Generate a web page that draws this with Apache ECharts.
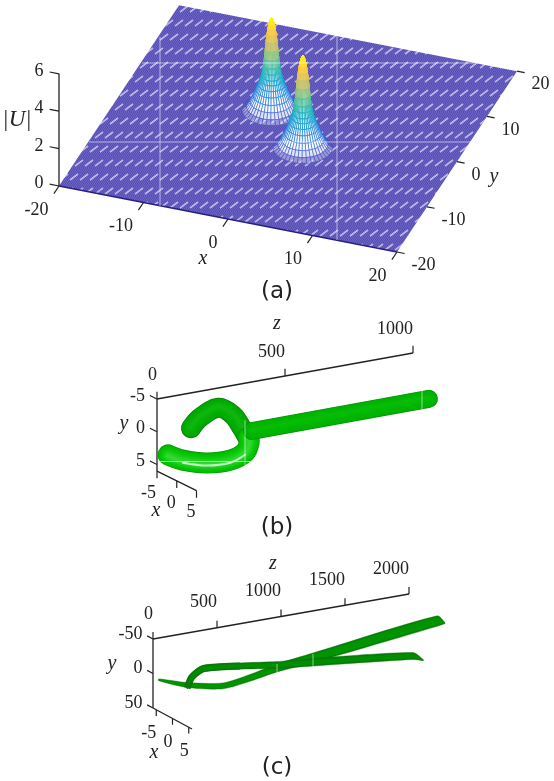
<!DOCTYPE html>
<html>
<head>
<meta charset="utf-8">
<style>
html, body { margin: 0; background: #fff; }
#chart { width: 554px; height: 781px; }
</style>
</head>
<body>
<div id="chart"></div>
<script src="https://cdn.jsdelivr.net/npm/echarts@6/dist/echarts.min.js"></script>
<script>
// panel (a): ticks and the two peaks of |U|
const aTicksX = [-20, -10, 0, 10, 20]
const aTicksY = [-20, -10, 0, 10, 20]
const aTicksU = [0, 2, 4, 6]
const peakCentersX = [-2.9, 3.0]
const peakCentersY = [2.7, -3.5]
const peakRadii = [0, 0.1, 0.2, 0.3, 0.4, 0.5, 0.6, 0.7, 0.8, 0.9, 1.0, 1.15, 1.3, 1.5, 1.75, 2.05, 2.4, 2.8, 3.3]
const peakHeights = [5.0, 4.96, 4.85, 4.68, 4.45, 4.15, 3.8, 3.35, 2.9, 2.5, 2.2, 1.92, 1.7, 1.45, 1.17, 0.85, 0.55, 0.28, 0.1]

// panel (b): two arms that fuse into one straight tube
const bTicksX = [-5, 0, 5]
const bTicksY = [-5, 0, 5]
const bTicksZ = [0, 500, 1000]
const bUpperZ = [0, 60, 120, 170, 230, 274]
const bUpperX = [3.6, 2.0, 2.7, 3.2, 1.6, 0.0]
const bUpperY = [-3.1, -3.8, -5.1, -3.8, -0.9, 1.2]
const bLowerZ = [0, 50, 110, 170, 210, 240, 274]
const bLowerX = [-2.2, -1.7, 0.5, 2.5, 3.7, 2.8, 0.3]
const bLowerY = [2.7, 3.7, 3.9, 3.3, 2.0, 0.9, 1.2]
const bStraightZ = [294, 985]
const bStraightX = [0, 0]
const bStraightY = [0.46, 0.4]

// panel (c): two long ribbons that cross
const cTicksX = [-5, 0, 5]
const cTicksY = [-50, 0, 50]
const cTicksZ = [0, 500, 1000, 1500, 2000]
const cRisingZ = [0, 200, 450, 640, 850, 1150, 2050, 2100]
const cRisingX = [-4.2, -3.4, -2.2, -1.4, -1.3, -2.1, 0.7, 1.1]
const cRisingY = [4.7, 16.6, 23, 15.6, 7.8, 5, -26.1, -22.8]
const cRisingHalf = [1.4, 3.6, 4.3, 5, 5.8, 7, 7.6, 0.7]
const cFlatZ = [0, 60, 180, 520, 850, 1100, 1960, 2040]
const cFlatX = [4.5, 3.6, 2.4, 0.3, -1.3, -3.2, -3.2, -3.2]
const cFlatY = [-5.5, -17.4, -22.5, -9.8, 3.5, 13.5, 31.4, 40]
const cFlatHalf = [1.4, 5.8, 5, 4.6, 5, 5.5, 5, 0.7]

// oblique views, one per panel: where the axis minimum sits and the step per data unit
const viewA = {origin: [59, 186], min: [-20, -20, 0], xVec: [8.45, 1.65], yVec: [3.0, -4.52], zVec: [0, -18.7]}
const viewB = {origin: [157, 399], min: [-5, -5, 0], xVec: [3.95, 1.95], yVec: [0, 6.55], zVec: [0.256, -0.046]}
const viewC = {origin: [153, 639], min: [-6, -50, 0], xVec: [3.25, 1.75], yVec: [0, 0.69], zVec: [0.128, -0.0225]}

const parula = ['#4a40b0', '#2a6ae0', '#1481d6', '#06a4ca', '#2eb7a4', '#87bf77', '#d1bb59', '#fec832', '#f9fb0e']
const axisColor = '#222'
const tickFont = '18px "Liberation Serif"'
const nameFont = 'italic 20px "Liberation Serif"'
const captionFont = '23px "DejaVu Sans"'

function project(view, x, y, z) {
    const dx = x - view.min[0]
    const dy = y - view.min[1]
    const dz = z - view.min[2]
    return [
        view.origin[0] + dx * view.xVec[0] + dy * view.yVec[0] + dz * view.zVec[0],
        view.origin[1] + dx * view.xVec[1] + dy * view.yVec[1] + dz * view.zVec[1],
    ]
}

function lerpColor(c0, c1, f) {
    const a = echarts.color.parse(c0)
    const b = echarts.color.parse(c1)
    return 'rgb(' + [0, 1, 2].map(k => Math.round(a[k] + (b[k] - a[k]) * f)).join(',') + ')'
}

function rampColor(stops, t) {
    const pos = Math.max(0, Math.min(1, t)) * (stops.length - 1)
    const i = Math.min(stops.length - 2, Math.floor(pos))
    return lerpColor(stops[i], stops[i + 1], pos - i)
}

function line(api, pts, color, width) {
    return {
        type: 'polyline',
        silent: true,
        shape: {points: pts.map(p => api.coord(p))},
        style: {stroke: color, lineWidth: width, fill: null, lineCap: 'butt'},
    }
}

function text(api, str, pos, align, font, dx, dy) {
    const p = api.coord(pos)
    return {
        type: 'text',
        silent: true,
        x: p[0] + (dx || 0),
        y: p[1] + (dy || 0),
        style: {text: str, font: font, fill: axisColor, align: align, verticalAlign: 'middle'},
    }
}

// the dense mesh prints as purple with rows of short white dashes
function meshTile() {
    const tile = document.createElement('canvas')
    tile.width = 20
    tile.height = 28
    const ctx = tile.getContext('2d')
    ctx.fillStyle = '#5349b0'
    ctx.fillRect(0, 0, 20, 28)
    ctx.strokeStyle = '#7069c8'
    ctx.lineWidth = 1
    for (let i = -28; i < 48; i += 2) {
        ctx.beginPath()
        ctx.moveTo(i, 28)
        ctx.lineTo(i + 19, 0)
        ctx.stroke()
    }
    ctx.strokeStyle = 'rgba(232,230,250,0.68)'
    ctx.lineWidth = 1.6
    const dashes = [[0, 12], [10, 12], [20, 12], [5, 26], [15, 26], [-5, 26]]
    dashes.forEach(d => {
        ctx.beginPath()
        ctx.moveTo(d[0], d[1])
        ctx.lineTo(d[0] + 8, d[1] - 6)
        ctx.stroke()
    })
    return tile
}

const surfaceFill = {image: meshTile(), repeat: 'repeat'}

function renderSurface(params, api) {
    const corners = [[-20, -20], [20, -20], [20, 20], [-20, 20]]
    return {
        type: 'group',
        children: [
            {
                type: 'polygon',
                silent: true,
                shape: {points: corners.map(c => api.coord(project(viewA, c[0], c[1], 0)))},
                style: {fill: surfaceFill},
            },
            line(api, [project(viewA, -20, -20, 0), project(viewA, 20, -20, 0)], '#2a1f80', 1.6),
        ],
    }
}

function renderPeaks(params, api) {
    const quads = []
    const angles = 40
    peakCentersX.forEach((cx, p) => {
        const cy = peakCentersY[p]
        const centerDepth = project(viewA, cx, cy, 0)[1]
        for (let r = peakRadii.length - 2; r >= 0; r--) {
            for (let a = 0; a < angles; a++) {
                const t0 = a / angles * 2 * Math.PI
                const t1 = (a + 1) / angles * 2 * Math.PI
                const corners = [
                    [cx + peakRadii[r] * Math.cos(t0), cy + peakRadii[r] * Math.sin(t0), peakHeights[r]],
                    [cx + peakRadii[r + 1] * Math.cos(t0), cy + peakRadii[r + 1] * Math.sin(t0), peakHeights[r + 1]],
                    [cx + peakRadii[r + 1] * Math.cos(t1), cy + peakRadii[r + 1] * Math.sin(t1), peakHeights[r + 1]],
                    [cx + peakRadii[r] * Math.cos(t1), cy + peakRadii[r] * Math.sin(t1), peakHeights[r]],
                ]
                const mx = (corners[0][0] + corners[2][0]) / 2
                const my = (corners[0][1] + corners[2][1]) / 2
                const depth = project(viewA, mx, my, 0)[1]
                quads.push({
                    depth: depth,
                    front: depth > centerDepth,
                    level: (peakHeights[r] + peakHeights[r + 1]) / 2,
                    pts: corners.map(c => project(viewA, c[0], c[1], c[2])),
                })
            }
        }
    })
    // back to front so the near side hides the far side
    quads.sort((a, b) => a.depth - b.depth)
    const children = quads.map(q => {
        const white = Math.min(1, q.level / 0.5) * (q.front ? 1 : Math.min(1, q.level / 1.2))
        return {
            type: 'polygon',
            silent: true,
            shape: {points: q.pts.map(p => api.coord(p))},
            style: {
                fill: 'rgba(255,255,255,' + white.toFixed(2) + ')',
                stroke: rampColor(parula, q.level / 5),
                lineWidth: 0.5 + 0.3 * Math.min(1, q.level / 2),
            },
        }
    })
    return {type: 'group', children: children}
}

function addTicks(children, api, view, ticks, fixed, tickDelta, labelAlign, dx, dy) {
    ticks.forEach(v => {
        const at = fixed(v)
        const end = [at[0] + tickDelta[0], at[1] + tickDelta[1], at[2] + tickDelta[2]]
        const a = project(view, at[0], at[1], at[2])
        children.push(line(api, [a, project(view, end[0], end[1], end[2])], axisColor, 1.2))
        children.push(text(api, String(v), a, labelAlign, tickFont, dx, dy))
    })
}

function renderAxes(params, api) {
    const c = []

    // (a)
    c.push(line(api, [project(viewA, -20, -20, 0), project(viewA, -20, -20, 6)], axisColor, 1.3))
    addTicks(c, api, viewA, aTicksU, v => [-20, -20, v], [-1.1, 0, 0], 'right', -15.5, -2.5)
    addTicks(c, api, viewA, aTicksX, v => [v, -20, 0], [0, -1.7, 0], 'right', -10.5, 24)
    addTicks(c, api, viewA, aTicksY, v => [20, v, 0], [0.9, 0, 0], 'left', 14.5, 13.5)
    c.push(text(api, '|U|', [17, 120], 'center', 'italic 23px "Liberation Serif"'))
    c.push(text(api, 'x', [203, 259], 'center', nameFont))
    c.push(text(api, 'y', [494, 177], 'center', nameFont))
    c.push(text(api, '(a)', [277, 292], 'center', captionFont))

    // (b)
    c.push(line(api, [project(viewB, -5, -5, 0), project(viewB, -5, -5, 1000)], axisColor, 1.3))
    c.push(line(api, [project(viewB, -5, -5, 0), project(viewB, -5, 6, 0)], axisColor, 1.3))
    c.push(line(api, [project(viewB, -5, 6, 0), project(viewB, 5, 6, 0)], axisColor, 1.3))
    addTicks(c, api, viewB, bTicksZ, v => [-5, -5, v], [0, -1.1, 0], 'right', 0, -24)
    addTicks(c, api, viewB, bTicksY, v => [-5, v, 0], [-1.8, 0, 0], 'right', -12, -3)
    addTicks(c, api, viewB, bTicksX, v => [v, 6, 0], [0, 1.1, 0], 'right', -1, 22)
    c.push(text(api, 'z', [277, 324], 'center', nameFont))
    c.push(text(api, 'y', [124, 424], 'center', nameFont))
    c.push(text(api, 'x', [156, 511], 'center', nameFont))
    c.push(text(api, '(b)', [277, 528], 'center', captionFont))

    // (c)
    c.push(line(api, [project(viewC, -6, -50, 0), project(viewC, -6, -50, 2000)], axisColor, 1.3))
    c.push(line(api, [project(viewC, -6, -50, 0), project(viewC, -6, 50, 0)], axisColor, 1.3))
    c.push(line(api, [project(viewC, -6, 50, 0), project(viewC, 6, 50, 0)], axisColor, 1.3))
    addTicks(c, api, viewC, cTicksZ, v => [-6, -50, v], [0, -10, 0], 'right', 0, -25)
    addTicks(c, api, viewC, cTicksY, v => [-6, v, 0], [-1.8, 0, 0], 'right', -10.5, -5)
    addTicks(c, api, viewC, cTicksX, v => [v, 50, 0], [0, 9, 0], 'right', 0, 24)
    c.push(text(api, 'z', [273, 564], 'center', nameFont))
    c.push(text(api, 'y', [112, 664], 'center', nameFont))
    c.push(text(api, 'x', [154, 753], 'center', nameFont))
    c.push(text(api, '(c)', [277, 768], 'center', captionFont))

    return {type: 'group', children: c}
}

// a tube is a stack of narrowing strokes, thin dark rim to bright core
function tubeLayers(api, xs, ys, zs, width, stops, lift) {
    const layers = 14
    const base = zs.map((z, i) => api.coord(project(viewB, xs[i], ys[i], z)))
    const out = []
    for (let k = 0; k < layers; k++) {
        const f = k / (layers - 1)
        out.push({
            type: 'polyline',
            silent: true,
            shape: {points: base.map(q => [q[0], q[1] + k * lift]), smooth: 0.35},
            style: {
                stroke: rampColor(stops, Math.pow(f, 0.4)),
                lineWidth: width * (1 - 0.9 * f),
                fill: null,
                lineCap: 'round',
                lineJoin: 'round',
            },
        })
    }
    return out
}

function renderTubes(params, api) {
    const upperStops = ['#0a7c0a', '#00a000', '#00a800', '#00ae00', '#10b610']
    const lowerStops = ['#0a960a', '#00b800', '#00c000', '#0cca0c', '#34d834']
    const straightStops = ['#0a900a', '#00aa00', '#00b200', '#00b600', '#08bc08']
    const glow = bLowerZ.slice(1, 5).map((z, i) => project(viewB, bLowerX[i + 1], bLowerY[i + 1] + 0.4, z))
    const children = [].concat(
        tubeLayers(api, bUpperX, bUpperY, bUpperZ, 20, upperStops, -0.12),
        tubeLayers(api, bLowerX, bLowerY, bLowerZ, 21, lowerStops, 0.1),
        [
            {
                type: 'polyline',
                silent: true,
                shape: {points: glow.map(p => api.coord(p)), smooth: 0.35},
                style: {stroke: 'rgba(225,250,225,0.85)', lineWidth: 2, fill: null, lineCap: 'round'},
            },
        ],
        tubeLayers(api, bStraightX, bStraightY, bStraightZ, 18, straightStops, -0.12)
    )
    return {type: 'group', children: children}
}

function ribbon(api, xs, ys, zs, halves, color, scale) {
    const top = zs.map((z, i) => project(viewC, xs[i], ys[i] - halves[i] * scale, z))
    const bottom = zs.map((z, i) => project(viewC, xs[i], ys[i] + halves[i] * scale, z)).reverse()
    return {
        type: 'polygon',
        silent: true,
        shape: {points: top.concat(bottom).map(p => api.coord(p)), smooth: 0.25},
        style: {fill: color, stroke: color, lineWidth: 0.4},
    }
}

function renderRibbons(params, api) {
    const hook = cFlatZ.slice(0, 4).map((z, i) => api.coord(project(viewC, cFlatX[i], cFlatY[i], z)))
    return {
        type: 'group',
        children: [
            ribbon(api, cRisingX, cRisingY, cRisingZ, cRisingHalf, '#0a7a0a', 1),
            ribbon(api, cRisingX, cRisingY, cRisingZ, cRisingHalf, '#009400', 0.7),
            {
                type: 'polyline',
                silent: true,
                shape: {points: hook, smooth: 0.2},
                style: {stroke: '#0a760a', lineWidth: 7, fill: null, lineCap: 'butt', lineJoin: 'round'},
            },
            ribbon(api, cFlatX, cFlatY, cFlatZ, cFlatHalf, '#0a760a', 1),
            ribbon(api, cFlatX, cFlatY, cFlatZ, cFlatHalf, '#008e00', 0.6),
        ],
    }
}

// thin white seams of the printed figure, in page pixels
const seamColor = 'rgba(255,255,255,0.7)'
const seamLines = [
    [[142, 63], [474, 63]],
    [[89, 142], [472, 142]],
    [[160, 37], [160, 206]],
    [[337, 36], [337, 240]],
    [[245, 420], [245, 466]],
    [[160, 461.5], [250, 461.5]],
    [[422, 390], [422, 409]],
    [[277, 664], [277, 675]],
    [[313, 654], [313, 667]],
]

function renderSeams(params, api) {
    return {type: 'group', children: seamLines.map(s => line(api, s, seamColor, 0.8))}
}

function customSeries(renderItem) {
    return {
        type: 'custom',
        coordinateSystem: 'cartesian2d',
        renderItem: renderItem,
        data: [0],
        clip: false,
        silent: true,
        progressive: 0,
    }
}

const chart = echarts.init(document.getElementById('chart'), null, {renderer: 'canvas'})
chart.setOption({
    animation: false,
    backgroundColor: '#fff',
    grid: {left: 0, right: 0, top: 0, bottom: 0},
    xAxis: {type: 'value', min: 0, max: 554, show: false},
    yAxis: {type: 'value', min: 0, max: 781, inverse: true, show: false},
    series: [
        customSeries(renderSurface),
        customSeries(renderPeaks),
        customSeries(renderAxes),
        customSeries(renderTubes),
        customSeries(renderRibbons),
        customSeries(renderSeams),
    ],
})
</script>
</body>
</html>
